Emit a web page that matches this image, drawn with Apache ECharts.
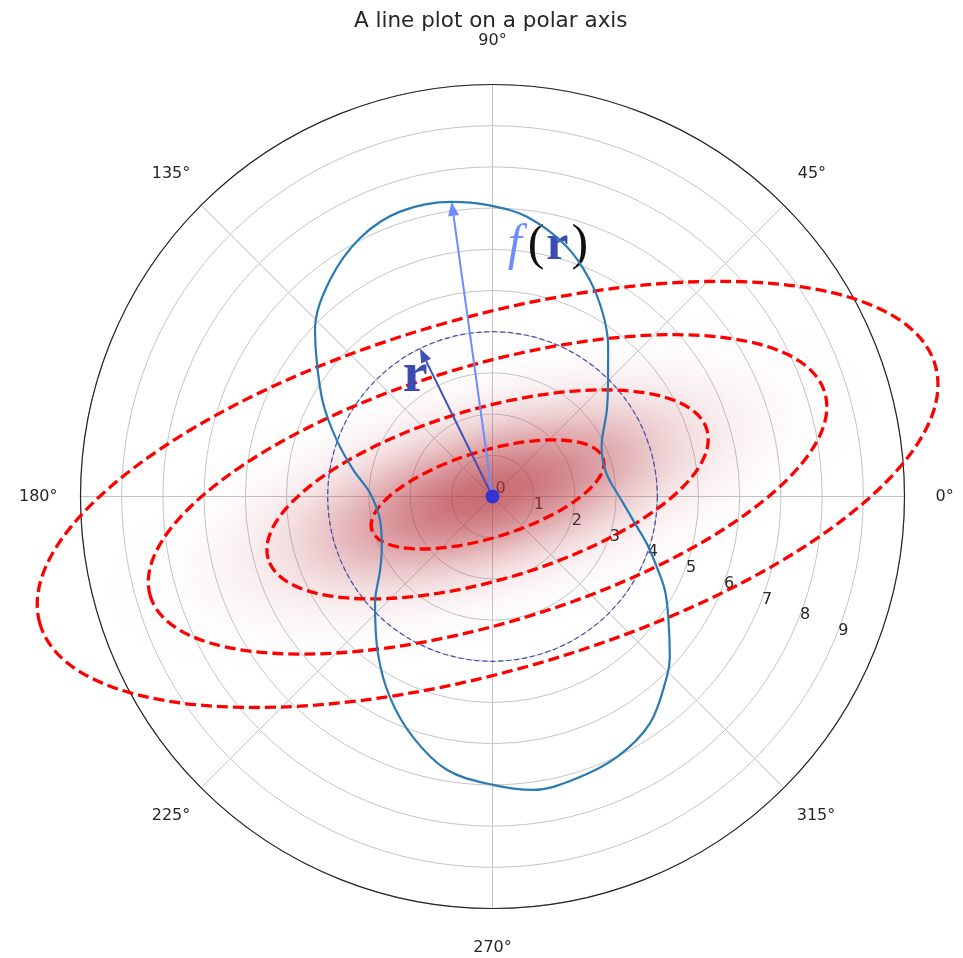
<!DOCTYPE html>
<html>
<head>
<meta charset="utf-8">
<script src="https://cdn.jsdelivr.net/npm/echarts@6/dist/echarts.min.js"></script>
<style>
html, body { margin: 0; padding: 0; background: #fff; }
#chart { width: 963px; height: 958px; }
</style>
</head>
<body>
<div id="chart"></div>
<script>
// radial tick labels (0..9), outer ring is 10
const radiusTicks = [0, 1, 2, 3, 4, 5, 6, 7, 8, 9]
// angle tick labels
const angleTicks = [0, 45, 90, 135, 180, 225, 270, 315]

// f(r) curve: angle (deg) and radius
const curveAngle = [4.6, 13.3, 24.5, 37.1, 45.2, 52.3, 58.6, 65.8, 73.5, 83.0, 91.1, 97.9, 108.0, 117.1, 126.9,
	136.8, 142.8, 151.2, 160.1, 169.2, 178.5, 191.8, 204.4, 213.2, 222.2, 233.8, 242.9, 251.7, 260.6, 270.1,
	277.9, 285.9, 295.5, 304.8, 314.0, 317.9, 325.6, 331.5, 336.9, 343.1, 349.3, 357.0, 364.6]
const curveR = [2.94, 2.81, 2.91, 3.48, 3.98, 4.59, 5.16, 5.76, 6.33, 6.84, 7.08, 7.22, 7.27, 7.05, 6.57,
	5.91, 5.35, 4.69, 4.02, 3.44, 2.97, 2.79, 2.95, 3.26, 3.85, 4.71, 5.47, 6.15, 6.73, 7.00,
	7.19, 7.15, 7.01, 6.70, 6.09, 5.80, 5.17, 4.76, 4.33, 3.91, 3.52, 3.18, 2.94]

// dashed red ellipses (1..4 sigma): semi-axes in radial units, tilt in deg
const ellipseMajor = [2.94, 5.55, 8.55, 11.31]
const ellipseMinor = [1.05, 2.08, 3.12, 4.28]
const ellipseTilt = [17.1, 16.4, 16.8, 16.1]
// shared centre of ellipses and shading, [r, angle]
const ellipseCenter = [0.13, 157]

// gaussian shading: 1-sigma semi-axes and tilt
const shadeSigma = [2.88, 1.05]
const shadeTilt = 16.6

// thin dashed guide circle
const guideRadius = [4]

// arrows from the origin: [r, angle]
const arrowTips = [[4.0, 116.1], [7.22, 97.9]]

// annotations: [r, angle]
const notePos = [[3.46, 122.8], [6.22, 77.5]]
const noteText = ['{big|r}', '{f|f}{pl|(}{r|r}{pr|)}']

const chart = echarts.init(document.getElementById('chart'))
const center = [492.5, 496.5]
const R = 412
const grid = '#c4c4c4'
const ink = '#262626'

// pixels per radial unit, through the polar scale
const unitOf = (api) => {
	const o = api.coord([0, 0])
	const p = api.coord([1, 0])
	return Math.hypot(p[0] - o[0], p[1] - o[1])
}

const shadeStops = [
	[0, 0.72], [0.1, 0.68], [0.2, 0.57], [0.3, 0.43], [0.4, 0.28], [0.5, 0.16],
	[0.6, 0.08], [0.7, 0.035], [0.8, 0.012], [0.9, 0.003], [1, 0]
].map(s => ({ offset: s[0], color: 'rgba(180,50,60,' + s[1] + ')' }))

// nudge each angle label so it sits centred like the original ([top, right, bottom, left])
const labelPad = {
	0: [0, 0, 0, 17], 45: [0, 0, 13, 4], 90: [0, 0, 22, 0], 135: [0, 1, 13, 0],
	180: [0, 9, 0, 0], 225: [10, 1, 0, 0], 270: [17, 0, 0, 0], 315: [10, 0, 0, 3]
}
const angleRich = {}
angleTicks.forEach(a => {
	angleRich['a' + a] = { fontFamily: 'DejaVu Sans', fontSize: 16, color: ink, padding: labelPad[a] }
})

const option = {
	animation: false,
	title: {
		text: 'A line plot on a polar axis',
		left: 354,
		top: 10,
		padding: 0,
		textStyle: { fontFamily: 'DejaVu Sans', fontSize: 21.5, fontWeight: 'normal', color: ink }
	},
	polar: [
		{ center: center, radius: R },
		{ center: center, radius: R }
	],
	angleAxis: [
		{
			polarIndex: 0,
			type: 'value',
			min: 0,
			max: 360,
			interval: 45,
			startAngle: 0,
			clockwise: false,
			axisLine: { lineStyle: { color: ink, width: 1.2 } },
			axisTick: { show: false },
			axisLabel: {
				margin: 14,
				fontFamily: 'DejaVu Sans',
				fontSize: 16,
				color: ink,
				formatter: (v) => (angleTicks.indexOf(v) >= 0 ? '{a' + v + '|' + v + '°}' : ''),
				rich: angleRich
			},
			splitLine: { lineStyle: { color: grid, width: 1 } }
		},
		{
			polarIndex: 1,
			type: 'value',
			min: 0,
			max: 360,
			startAngle: 337.5,
			clockwise: false,
			show: false
		}
	],
	radiusAxis: [
		{
			polarIndex: 0,
			type: 'value',
			min: 0,
			max: 10,
			interval: 1,
			axisLine: { show: false },
			axisTick: { show: false },
			axisLabel: { show: false },
			splitLine: { lineStyle: { color: grid, width: 1 } }
		},
		{
			polarIndex: 1,
			type: 'value',
			min: 0,
			max: 10,
			interval: 1,
			axisLine: { show: false },
			axisTick: { show: false },
			splitLine: { show: false },
			axisLabel: {
				fontFamily: 'DejaVu Sans',
				fontSize: 16,
				color: ink,
				formatter: (v) => (radiusTicks.indexOf(v) >= 0 ? String(v) : '')
			}
		}
	],
	series: [
		{
			// gaussian shading
			type: 'custom',
			coordinateSystem: 'polar',
			polarIndex: 0,
			silent: true,
			data: [[shadeSigma[0], shadeSigma[1], shadeTilt]],
			renderItem: (params, api) => {
				const unit = unitOf(api)
				const c = api.coord(ellipseCenter)
				const ra = api.value(0) * 3.5 * unit
				return {
					type: 'circle',
					x: c[0],
					y: c[1],
					rotation: api.value(2) * Math.PI / 180,
					scaleY: api.value(1) / api.value(0),
					shape: { cx: 0, cy: 0, r: ra },
					style: { fill: new echarts.graphic.RadialGradient(0.5, 0.5, 0.5, shadeStops) }
				}
			}
		},
		{
			name: 'f(r)',
			type: 'line',
			coordinateSystem: 'polar',
			polarIndex: 0,
			data: curveR.map((r, i) => [r, curveAngle[i]]),
			smooth: 0.35,
			showSymbol: false,
			lineStyle: { color: '#2a7ab5', width: 2.2 }
		},
		{
			// thin dashed circle
			type: 'custom',
			coordinateSystem: 'polar',
			polarIndex: 0,
			silent: true,
			data: guideRadius.map(r => [r, 0]),
			renderItem: (params, api) => {
				const o = api.coord([0, 0])
				return {
					type: 'circle',
					shape: { cx: o[0], cy: o[1], r: api.value(0) * unitOf(api) },
					style: { fill: 'none', stroke: '#3f4fb5', lineWidth: 1.2, lineDash: [5, 3] }
				}
			}
		},
		{
			// dashed red ellipses
			type: 'custom',
			coordinateSystem: 'polar',
			polarIndex: 0,
			silent: true,
			data: ellipseMajor.map((a, i) => [a, ellipseMinor[i], ellipseTilt[i]]),
			renderItem: (params, api) => {
				const unit = unitOf(api)
				const c = api.coord(ellipseCenter)
				return {
					type: 'ellipse',
					x: c[0],
					y: c[1],
					rotation: api.value(2) * Math.PI / 180,
					shape: { cx: 0, cy: 0, rx: api.value(0) * unit, ry: api.value(1) * unit },
					style: { fill: 'none', stroke: '#ff0000', lineWidth: 3.3, lineDash: [11, 5] }
				}
			}
		},
		{
			// arrows from the origin
			type: 'custom',
			coordinateSystem: 'polar',
			polarIndex: 0,
			silent: true,
			data: arrowTips,
			renderItem: (params, api) => {
				const color = ['#3f51b5', '#6c8dff'][params.dataIndex]
				const o = api.coord([0, 0])
				const t = api.coord([api.value(0), api.value(1)])
				const len = Math.hypot(t[0] - o[0], t[1] - o[1])
				const ux = (t[0] - o[0]) / len
				const uy = (t[1] - o[1]) / len
				const hl = 14
				const hw = 5.5
				const bx = t[0] - ux * hl
				const by = t[1] - uy * hl
				return {
					type: 'group',
					children: [
						{
							type: 'line',
							shape: { x1: o[0], y1: o[1], x2: bx, y2: by },
							style: { stroke: color, lineWidth: 2 }
						},
						{
							type: 'polygon',
							shape: { points: [[t[0], t[1]], [bx - uy * hw, by + ux * hw], [bx + uy * hw, by - ux * hw]] },
							style: { fill: color }
						}
					]
				}
			}
		},
		{
			// r and f(r) labels
			type: 'custom',
			coordinateSystem: 'polar',
			polarIndex: 0,
			silent: true,
			data: notePos,
			renderItem: (params, api) => {
				const p = api.coord([api.value(0), api.value(1)])
				return {
					type: 'text',
					x: p[0],
					y: p[1],
					style: {
						text: noteText[params.dataIndex],
						align: 'center',
						verticalAlign: 'middle',
						rich: {
							big: { fontFamily: 'Liberation Serif', fontWeight: 'bold', fontSize: 56, fill: '#3c4bb4' },
							f: { fontFamily: 'Liberation Serif', fontStyle: 'italic', fontSize: 50, fill: '#6c8dff', padding: [0, 6, 0, 0] },
							pl: { fontFamily: 'Liberation Serif', fontSize: 50, fill: '#111', padding: [0, 2, 0, 0] },
							r: { fontFamily: 'Liberation Serif', fontWeight: 'bold', fontSize: 50, fill: '#3c4bb4', padding: [0, 3, 0, 0] },
							pr: { fontFamily: 'Liberation Serif', fontSize: 50, fill: '#111' }
						}
					}
				}
			}
		},
		{
			type: 'scatter',
			coordinateSystem: 'polar',
			polarIndex: 0,
			data: [[0, 0]],
			symbolSize: 14,
			itemStyle: { color: '#3535d2', opacity: 1 }
		}
	]
}
chart.setOption(option)
</script>
</body>
</html>
